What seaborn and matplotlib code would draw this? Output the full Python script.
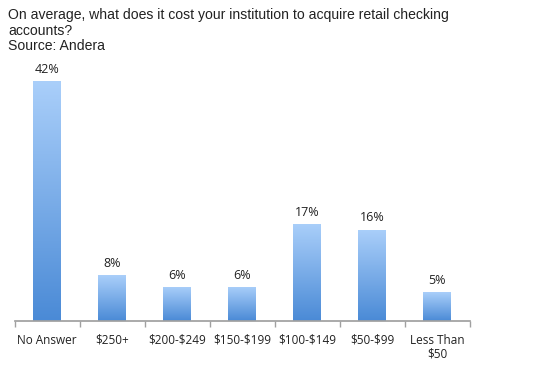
import numpy as np
import pandas as pd
import matplotlib
matplotlib.use("Agg")
import matplotlib.pyplot as plt
import seaborn as sns
from matplotlib.colors import LinearSegmentedColormap

categories = ["No Answer", "$250+", "$200-$249", "$150-$199", "$100-$149", "$50-$99", "Less Than\n$50"]
values = [42, 8, 6, 6, 17, 16, 5]
labels = ["42%", "8%", "6%", "6%", "17%", "16%", "5%"]
title_lines = ["On average, what does it cost your institution to acquire retail checking",
               "accounts?", "Source: Andera"]

sns.set_theme(style="white")
plt.rcParams['font.family'] = ['Open Sans', 'DejaVu Sans']
plt.rcParams['text.parse_math'] = False

fig = plt.figure(figsize=(5.59, 3.80), dpi=100)
ax = fig.add_axes([14.5/559, 1-321/380, 455/559, 261/380])

df = pd.DataFrame({"cat": categories, "val": values})
sns.barplot(data=df, x="cat", y="val", ax=ax, width=0.42, color="#6fa6e6", saturation=1)

cmap = LinearSegmentedColormap.from_list("g", ["#4a8ad6", "#aacffa"])
grad = np.linspace(0, 1, 256).reshape(-1, 1)
ax.set_ylim(0, 42 * 261 / 240)
ax.set_xlim(-0.5, len(categories) - 0.5)
for p in ax.patches:
    x0, y0, w, h = p.get_x(), p.get_y(), p.get_width(), p.get_height()
    im = ax.imshow(grad, cmap=cmap, origin="lower", aspect="auto",
                   extent=[x0, x0 + w, y0, y0 + h], zorder=2)
    im.set_clip_path(p)
    p.set_alpha(0)

for i, (v, lab) in enumerate(zip(values, labels)):
    ax.text(i, v + 0.9, lab, ha="center", va="bottom", fontsize=9, color="#222222")

ax.set_xlim(-0.5, len(categories) - 0.5)
ax.set_ylim(0, 42 * 261 / 240)
for s in ["top", "right", "left"]:
    ax.spines[s].set_visible(False)
ax.spines["bottom"].set_color("#a0a0a0")
ax.set_yticks([])
ax.set_xlabel("")
ax.set_ylabel("")
ax.set_xticks(np.arange(len(categories)))
ax.set_xticklabels(categories, fontsize=8.5, color="#222222", linespacing=1.1)
ax.tick_params(axis="x", length=0, pad=9)
ax.set_xticks(np.arange(-0.5, len(categories)), minor=True)
ax.tick_params(axis="x", which="minor", length=4, color="#a0a0a0", bottom=True)

for k, line in enumerate(title_lines):
    fig.text(8/559, 1-(19.5 + 15.5*k)/380, line, ha="left", va="baseline",
             fontsize=10.1, family=["Liberation Sans"], color="#222222")

fig.savefig("out.png", dpi=100)
